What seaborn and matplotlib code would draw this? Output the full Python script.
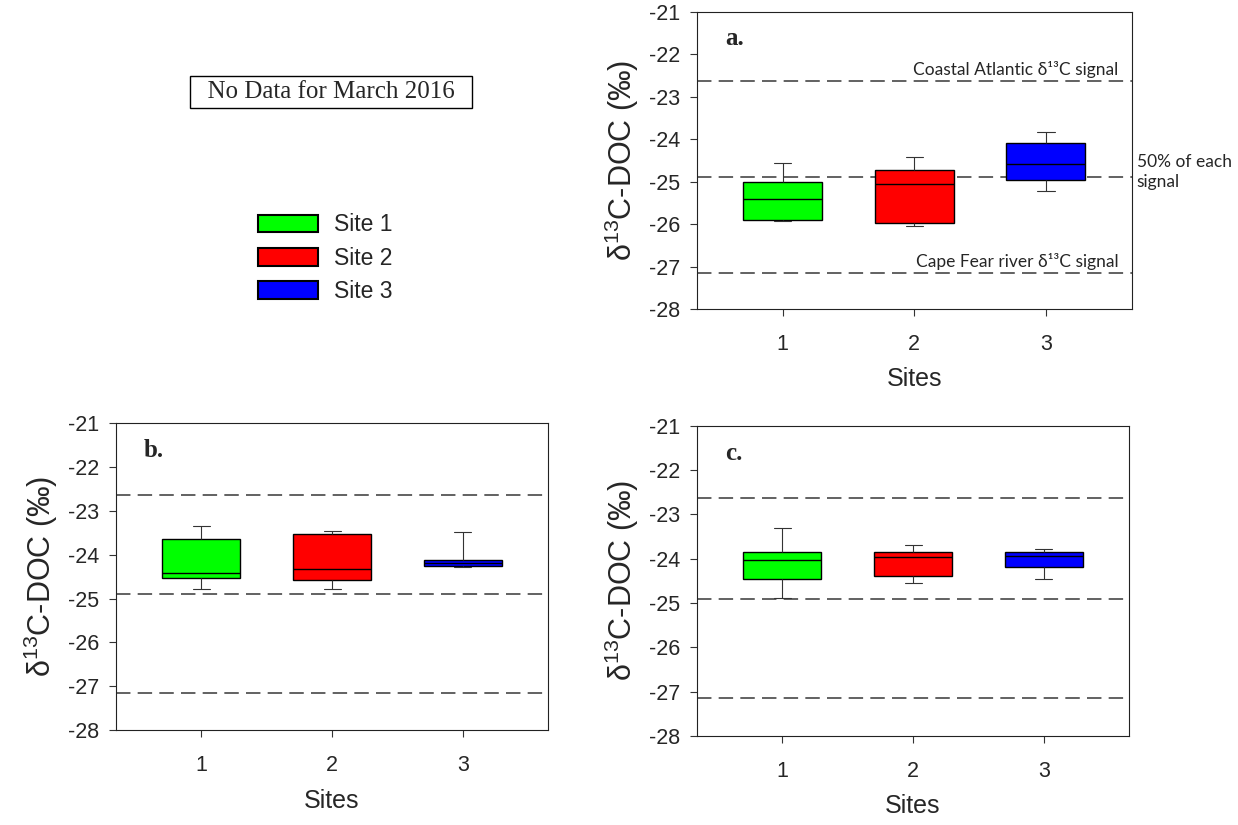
import numpy as np
import pandas as pd
import seaborn as sns
import matplotlib.pyplot as plt
from matplotlib.patches import Patch

# Five-number summaries per site (whisker low, Q1, median, Q3, whisker high)
sites = ["1", "2", "3"]
site_labels = ["Site 1", "Site 2", "Site 3"]
site_colors = ["#00FF00", "#FF0000", "#0000FF"]

a_site1 = [-25.92, -25.91, -25.41, -25.00, -24.55]
a_site2 = [-26.04, -25.97, -25.06, -24.73, -24.43]
a_site3 = [-25.22, -24.95, -24.59, -24.10, -23.84]

b_site1 = [-24.77, -24.52, -24.42, -23.64, -23.34]
b_site2 = [-24.79, -24.57, -24.33, -23.52, -23.45]
b_site3 = [-24.29, -24.25, -24.18, -24.11, -23.47]

c_site1 = [-24.88, -24.46, -24.04, -23.86, -23.31]
c_site2 = [-24.55, -24.40, -23.97, -23.86, -23.70]
c_site3 = [-24.47, -24.19, -23.95, -23.86, -23.79]

# end-member signals
coastal_signal = -22.63
mix_signal = -24.90
capefear_signal = -27.15

y_ticks = [-21, -22, -23, -24, -25, -26, -27, -28]

sns.set_theme(style="ticks")
plt.rcParams["font.family"] = ["Liberation Sans", "DejaVu Sans"]
plt.rcParams["axes.unicode_minus"] = False
plt.rcParams["mathtext.fontset"] = "custom"
plt.rcParams["mathtext.rm"] = "Liberation Sans"
plt.rcParams["mathtext.it"] = "Liberation Sans:italic"


def make_df(s1, s2, s3):
    rows = []
    for site, vals in zip(sites, [s1, s2, s3]):
        for v in vals:
            rows.append({"site": site, "value": v})
    return pd.DataFrame(rows)


panels = {
    "a.": make_df(a_site1, a_site2, a_site3),
    "b.": make_df(b_site1, b_site2, b_site3),
    "c.": make_df(c_site1, c_site2, c_site3),
}

fig = plt.figure(figsize=(12.38, 8.25), dpi=100)
positions = {
    "a.": [0.563, 0.6255, 0.351, 0.36],
    "b.": [0.0937, 0.115, 0.349, 0.372],
    "c.": [0.563, 0.108, 0.349, 0.376],
}

axes = {}
for name, df in panels.items():
    ax = fig.add_axes(positions[name])
    sns.boxplot(data=df, x="site", y="value", hue="site", palette=site_colors,
                order=sites, hue_order=sites, width=0.6, whis=(0, 100),
                saturation=1, linecolor="black", linewidth=1.0, showfliers=False,
                legend=False, ax=ax, capwidths=0.13,
                whiskerprops=dict(color="#333333", linewidth=0.8),
                capprops=dict(color="#333333", linewidth=0.8),
                medianprops=dict(color="black", linewidth=1.0))
    for yv in [coastal_signal, mix_signal, capefear_signal]:
        ax.axhline(yv, color="#555555", lw=1.3, dashes=(8, 4), zorder=0)
    ax.set_xlim(-0.65, 2.65)
    ax.set_ylim(-28, -21)
    ax.set_yticks(y_ticks)
    ax.set_yticklabels([str(t) for t in y_ticks])
    ax.tick_params(axis="both", labelsize=15.5, length=5, width=0.8, color="#333333")
    ax.tick_params(axis="y", pad=7)
    ax.tick_params(axis="x", pad=13)
    for sp in ax.spines.values():
        sp.set_visible(True)
        sp.set_linewidth(0.8)
        sp.set_color("#222222")
    ax.set_xlabel("Sites", fontsize=18, labelpad=9)
    ax.set_ylabel("δ$^{13}$C-DOC (‰)", fontsize=22, labelpad=6)
    ax.text(0.064, 0.889, name, transform=ax.transAxes, fontsize=18,
            fontweight="bold", family="Liberation Serif", va="baseline")
    axes[name] = ax

# labels of the signal lines on panel a
ax = axes["a."]
ann_font = ["Lato", "DejaVu Sans"]
ax.text(0.97, coastal_signal + 0.15, "Coastal Atlantic δ¹³C signal", ha="right",
        va="baseline", fontsize=12.5, family=ann_font, transform=ax.get_yaxis_transform())
ax.text(0.97, capefear_signal + 0.15, "Cape Fear river δ¹³C signal", ha="right",
        va="baseline", fontsize=12.5, family=ann_font, transform=ax.get_yaxis_transform())
ax.text(1.012, mix_signal + 0.12, "50% of each\nsignal", ha="left", va="center",
        fontsize=12.5, family=ann_font, linespacing=1.3,
        transform=ax.get_yaxis_transform(), clip_on=False)

# note box and legend
fig.text(0.2674, 0.889, "  No Data for March 2016  ", ha="center", va="center",
         fontsize=18, family="Liberation Serif",
         bbox=dict(boxstyle="square,pad=0.2", fc="white", ec="black", lw=1))

handles = [Patch(facecolor=c, edgecolor="black", lw=1.5, label=l)
           for c, l in zip(site_colors, site_labels)]
fig.legend(handles=handles, loc="center left", bbox_to_anchor=(0.2085, 0.687),
           frameon=False, fontsize=16.5, handlelength=2.6, handleheight=0.82,
           handletextpad=0.7, labelspacing=0.45, borderaxespad=0, borderpad=0)

fig.savefig("out.png", dpi=100)
